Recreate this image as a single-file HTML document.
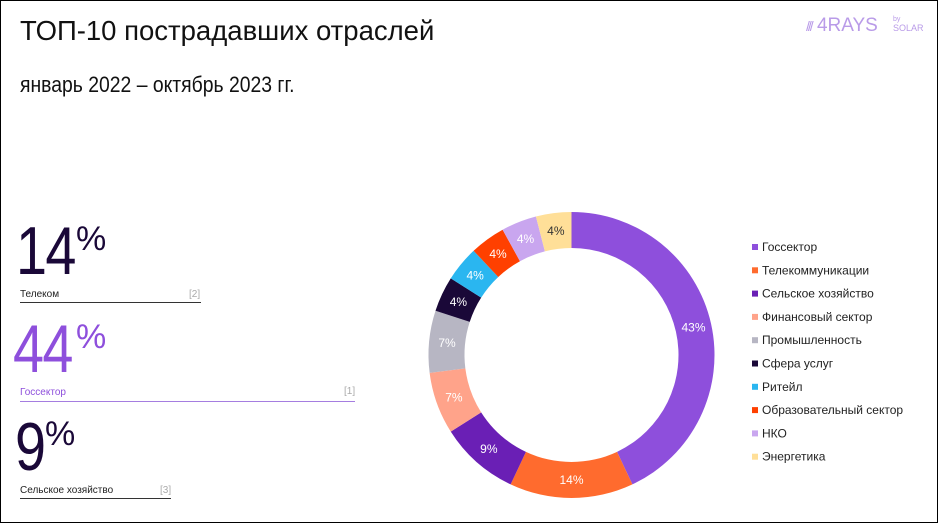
<!DOCTYPE html>
<html><head><meta charset="utf-8"><style>
body{margin:0;width:938px;height:523px;overflow:hidden;background:#fff;font-family:"Liberation Sans",sans-serif;}
.frame{position:absolute;left:0;top:0;width:936px;height:521px;border:1px solid #000;}
.t{position:absolute;white-space:nowrap;}
.big{transform:scaleX(0.82);transform-origin:0 0;font-size:68px;letter-spacing:-2px;}
</style></head><body>
<div class="frame"></div>
<div class="t" style="left:20px;top:15px;font-size:27.5px;color:#111;">ТОП-10 пострадавших отраслей</div>
<div class="t" style="left:20px;top:72px;font-size:22px;color:#111;transform:scaleX(0.88);transform-origin:0 0;">январь 2022 – октябрь 2023 гг.</div>
<div class="t" style="left:806px;top:15px;font-size:19px;color:#b99be8;"><span style="font-size:14px;letter-spacing:-2px">///</span> 4RAYS</div>
<div class="t" style="left:893px;top:16px;font-size:7px;color:#b99be8;line-height:8px;">by<br><span style="font-size:9px">SOLAR</span></div>

<div class="t big" style="left:16px;top:212px;color:#1a0838;">14</div>
<div class="t" style="left:76px;top:220px;font-size:34px;color:#1a0838;">%</div>
<div class="t" style="left:20px;top:289px;font-size:10px;color:#222;">Телеком</div>
<div class="t" style="left:189px;top:289px;font-size:10px;color:#aaa;">[2]</div>
<div style="position:absolute;left:20px;top:302px;width:181px;height:1px;background:#333;"></div>

<div class="t big" style="left:13px;top:310px;color:#8e4fdc;">44</div>
<div class="t" style="left:76px;top:318px;font-size:34px;color:#8e4fdc;">%</div>
<div class="t" style="left:20px;top:387px;font-size:10px;color:#8e4fdc;">Госсектор</div>
<div class="t" style="left:344px;top:386px;font-size:10px;color:#aaa;">[1]</div>
<div style="position:absolute;left:20px;top:401px;width:335px;height:1px;background:#a57de0;"></div>

<div class="t big" style="left:15px;top:408px;color:#1a0838;">9</div>
<div class="t" style="left:45px;top:415px;font-size:34px;color:#1a0838;">%</div>
<div class="t" style="left:20px;top:485px;font-size:10px;color:#222;">Сельское хозяйство</div>
<div class="t" style="left:160px;top:485px;font-size:10px;color:#aaa;">[3]</div>
<div style="position:absolute;left:20px;top:498px;width:151px;height:1px;background:#333;"></div>

<svg id="s" width="938" height="523" style="position:absolute;left:0;top:0;"></svg>
<script>
var d=[[43,'#8e4fdc','Госсектор','#fff'],[14,'#ff6b2e','Телекоммуникации','#fff'],[9,'#6a1fb5','Сельское хозяйство','#fff'],[7,'#ffa38a','Финансовый сектор','#fff'],[7,'#b7b6c3','Промышленность','#fff'],[4,'#1a0838','Сфера услуг','#fff'],[4,'#2ab6f0','Ритейл','#fff'],[4,'#ff4000','Образовательный сектор','#fff'],[4,'#c9a6ef','НКО','#fff'],[4,'#ffdf98','Энергетика','#333']];
var cx=571.5,cy=355,R=143,r=107,a=0,h='';
function p(rad,an){return [cx+rad*Math.sin(an),cy-rad*Math.cos(an)];}
d.forEach(function(e,i){var a1=a+e[0]/100*2*Math.PI;var L=(a1-a)>Math.PI?1:0;
var A=p(R,a),B=p(R,a1),C=p(r,a1),D=p(r,a);
h+='<path d="M'+A+' A'+R+','+R+' 0 '+L+' 1 '+B+' L'+C+' A'+r+','+r+' 0 '+L+' 0 '+D+'Z" fill="'+e[1]+'"/>';
var m=p((R+r)/2,(a+a1)/2);
h+='<text x="'+m[0]+'" y="'+(m[1]+4)+'" text-anchor="middle" font-size="12" fill="'+e[3]+'" font-family="Liberation Sans">'+e[0]+'%</text>';
var y=248+i*23.3;
h+='<rect x="752" y="'+(y-4)+'" width="6" height="6" fill="'+e[1]+'"/><text x="762" y="'+(y+3)+'" font-size="12" fill="#222" font-family="Liberation Sans">'+e[2]+'</text>';
a=a1;});
document.getElementById('s').innerHTML=h;
</script>
</body></html>
